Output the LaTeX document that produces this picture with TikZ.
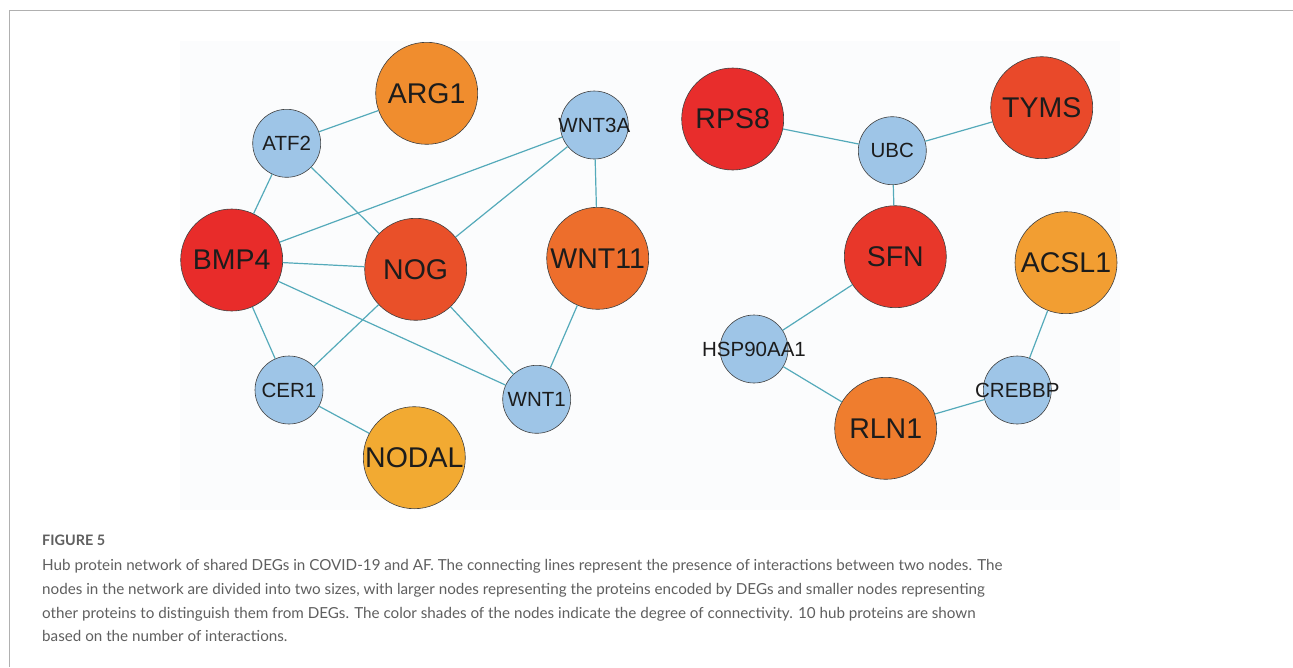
\documentclass[tikz,border=0pt]{standalone}
\usepackage{fontspec}
\setmainfont{Liberation Sans}
\newfontfamily\capfont{Lato}
\newcommand{\nodetxt}[1]{\makebox[0pt][c]{#1}}
\definecolor{edgec}{RGB}{84,170,186}
\definecolor{smallc}{RGB}{158,197,231}
\definecolor{framec}{RGB}{176,176,176}
\definecolor{panelc}{RGB}{251,252,253}
\definecolor{capc}{RGB}{95,95,95}
\definecolor{txtc}{RGB}{28,28,28}
\definecolor{cARG}{RGB}{240,141,46}
\definecolor{cBMP}{RGB}{232,44,42}
\definecolor{cNOG}{RGB}{233,80,41}
\definecolor{cWNTe}{RGB}{237,110,44}
\definecolor{cNODAL}{RGB}{242,170,50}
\definecolor{cRPS}{RGB}{232,45,44}
\definecolor{cTYMS}{RGB}{233,73,42}
\definecolor{cSFN}{RGB}{232,55,42}
\definecolor{cACSL}{RGB}{242,158,50}
\definecolor{cRLN}{RGB}{239,125,46}
\tikzset{
  bignode/.style={circle, draw=black!75, line width=0.6pt, minimum size=102pt, inner sep=0pt, text=txtc, font=\fontsize{28.5}{28.5}\selectfont},
  smallnode/.style={circle, draw=black!75, line width=0.6pt, fill=smallc, minimum size=68pt, inner sep=0pt, text=txtc, font=\fontsize{20.5}{20.5}\selectfont},
  link/.style={draw=edgec, line width=1.2pt},
  captxt/.style={anchor=base west, inner sep=0pt, text=capc, font=\capfont\fontsize{15.2}{15.2}\selectfont},
}
\begin{document}
\begin{tikzpicture}[x=1pt,y=-1pt]
\useasboundingbox (0,0) rectangle (1293,667);
\fill[white] (0,0) rectangle (1293,667);
\draw[framec, line width=1.3pt] (9.5,667) -- (9.5,10.5) -- (1293,10.5);
\fill[panelc] (180,41) rectangle (1120,510);
% left network
\node[bignode, fill=cARG] (arg1) at (426.7,93.3) {\nodetxt{ARG1}};
\node[smallnode] (atf2) at (286.7,143.3) {\nodetxt{ATF2}};
\node[smallnode] (wnt3a) at (594.3,125) {\nodetxt{WNT3A}};
\node[bignode, fill=cBMP] (bmp4) at (231.7,260) {\nodetxt{BMP4}};
\node[bignode, fill=cNOG] (nog) at (415.7,269.3) {\nodetxt{NOG}};
\node[bignode, fill=cWNTe] (wnt11) at (597.7,258.3) {\nodetxt{WNT11}};
\node[smallnode] (cer1) at (289,390) {\nodetxt{CER1}};
\node[smallnode] (wnt1) at (536.7,399.3) {\nodetxt{WNT1}};
\node[bignode, fill=cNODAL] (nodal) at (414.3,457.7) {\nodetxt{NODAL}};
% right network
\node[bignode, fill=cRPS] (rps8) at (732.7,119) {\nodetxt{RPS8}};
\node[smallnode] (ubc) at (892.3,150.7) {\nodetxt{UBC}};
\node[bignode, fill=cTYMS] (tyms) at (1041.7,107.7) {\nodetxt{TYMS}};
\node[bignode, fill=cSFN] (sfn) at (895.3,256.7) {\nodetxt{SFN}};
\node[bignode, fill=cACSL] (acsl1) at (1066,262.7) {\nodetxt{ACSL1}};
\node[smallnode] (hsp) at (754,349) {\nodetxt{HSP90AA1}};
\node[bignode, fill=cRLN] (rln1) at (885.7,428.3) {\nodetxt{RLN1}};
\node[smallnode] (crebbp) at (1017.3,390) {\nodetxt{CREBBP}};
% edges
\draw[link] (atf2) -- (arg1);
\draw[link] (atf2) -- (bmp4);
\draw[link] (atf2) -- (nog);
\draw[link] (wnt3a) -- (bmp4);
\draw[link] (wnt3a) -- (nog);
\draw[link] (wnt3a) -- (wnt11);
\draw[link] (bmp4) -- (nog);
\draw[link] (bmp4) -- (cer1);
\draw[link] (bmp4) -- (wnt1);
\draw[link] (nog) -- (cer1);
\draw[link] (nog) -- (wnt1);
\draw[link] (wnt11) -- (wnt1);
\draw[link] (cer1) -- (nodal);
\draw[link] (rps8) -- (ubc);
\draw[link] (ubc) -- (tyms);
\draw[link] (ubc) -- (sfn);
\draw[link] (sfn) -- (hsp);
\draw[link] (hsp) -- (rln1);
\draw[link] (rln1) -- (crebbp);
\draw[link] (crebbp) -- (acsl1);
% caption
\node[anchor=base west, inner sep=0pt, text=capc, font=\capfont\bfseries\fontsize{14.4}{14.4}\selectfont] (figlabel) at (42,545.7) {FIGURE 5};
\node[captxt] (cap1) at (42,570.7) {Hub protein network of shared DEGs in COVID-19 and AF. The connecting lines represent the presence of interactions between two nodes. The};
\node[captxt] (cap2) at (42,594.4) {nodes in the network are divided into two sizes, with larger nodes representing the proteins encoded by DEGs and smaller nodes representing};
\node[captxt] (cap3) at (42,618.1) {other proteins to distinguish them from DEGs. The color shades of the nodes indicate the degree of connectivity. 10 hub proteins are shown};
\node[captxt] (cap4) at (42,641.8) {based on the number of interactions.};
\end{tikzpicture}
\end{document}
